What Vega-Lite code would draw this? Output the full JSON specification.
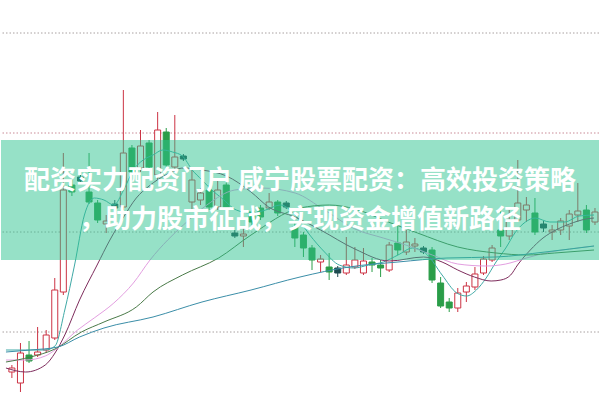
{
  "$schema": "https://vega.github.io/schema/vega-lite/v6.json",
  "width": 600,
  "height": 400,
  "autosize": {"type": "fit", "contains": "padding"},
  "padding": 0,
  "background": "white",
  "config": {"view": {"stroke": null}},
  "datasets": {
    "grid": [{"g": 6.8}, {"g": 16.8}, {"g": 26.7}, {"g": 36.7}],
    "candles": [
      {"i":0,"o":2.8,"c":3.2,"h":3.5,"l":2.2,"d":"up"},
      {"i":1,"o":1.7,"c":4.7,"h":5.7,"l":0.8,"d":"up"},
      {"i":2,"o":4.5,"c":3.9,"h":5.9,"l":3.7,"d":"down"},
      {"i":3,"o":4.5,"c":4.8,"h":7.3,"l":4.3,"d":"up"},
      {"i":4,"o":5.0,"c":6.5,"h":7.0,"l":4.7,"d":"up"},
      {"i":5,"o":6.2,"c":11.0,"h":12.2,"l":6.0,"d":"up"},
      {"i":6,"o":10.8,"c":21.0,"h":24.7,"l":10.5,"d":"up"},
      {"i":7,"o":21.5,"c":20.8,"h":22.0,"l":20.4,"d":"down"},
      {"i":8,"o":22.3,"c":21.9,"h":22.5,"l":21.7,"d":"doji"},
      {"i":9,"o":20.8,"c":19.8,"h":24.7,"l":19.6,"d":"down"},
      {"i":10,"o":19.7,"c":18.0,"h":20.0,"l":17.7,"d":"down"},
      {"i":11,"o":17.6,"c":17.9,"h":18.5,"l":16.7,"d":"up"},
      {"i":12,"o":19.6,"c":19.2,"h":20.0,"l":19.0,"d":"doji"},
      {"i":13,"o":19.3,"c":24.7,"h":31.0,"l":19.0,"d":"up"},
      {"i":14,"o":25.2,"c":22.8,"h":25.5,"l":22.5,"d":"down"},
      {"i":15,"o":23.2,"c":25.4,"h":27.0,"l":22.8,"d":"up"},
      {"i":16,"o":25.7,"c":23.3,"h":26.0,"l":23.0,"d":"down"},
      {"i":17,"o":22.5,"c":27.0,"h":28.8,"l":22.0,"d":"up"},
      {"i":18,"o":26.8,"c":23.5,"h":27.2,"l":23.2,"d":"down"},
      {"i":19,"o":23.3,"c":24.3,"h":28.5,"l":22.7,"d":"up"},
      {"i":20,"o":24.4,"c":24.1,"h":24.6,"l":23.9,"d":"doji"},
      {"i":21,"o":19.8,"c":22.0,"h":23.0,"l":19.0,"d":"up"},
      {"i":22,"o":20.0,"c":20.7,"h":21.2,"l":19.5,"d":"up"},
      {"i":23,"o":21.0,"c":19.3,"h":21.5,"l":19.0,"d":"down"},
      {"i":24,"o":19.3,"c":21.0,"h":22.0,"l":19.0,"d":"up"},
      {"i":25,"o":21.5,"c":19.2,"h":22.0,"l":19.0,"d":"down"},
      {"i":26,"o":16.7,"c":16.4,"h":17.0,"l":16.2,"d":"doji"},
      {"i":27,"o":16.4,"c":16.6,"h":17.2,"l":15.3,"d":"up"},
      {"i":28,"o":18.8,"c":17.8,"h":19.2,"l":17.5,"d":"down"},
      {"i":29,"o":19.2,"c":18.3,"h":19.5,"l":18.0,"d":"down"},
      {"i":30,"o":19.2,"c":19.8,"h":20.7,"l":19.0,"d":"up"},
      {"i":31,"o":19.8,"c":18.7,"h":20.0,"l":18.4,"d":"down"},
      {"i":32,"o":19.7,"c":19.3,"h":19.9,"l":19.1,"d":"doji"},
      {"i":33,"o":17.3,"c":16.2,"h":17.8,"l":15.3,"d":"down"},
      {"i":34,"o":16.5,"c":15.2,"h":16.8,"l":14.3,"d":"down"},
      {"i":35,"o":15.2,"c":14.0,"h":15.5,"l":13.0,"d":"down"},
      {"i":36,"o":13.8,"c":14.1,"h":14.5,"l":12.8,"d":"up"},
      {"i":37,"o":13.3,"c":12.8,"h":14.7,"l":12.0,"d":"down"},
      {"i":38,"o":13.2,"c":12.7,"h":13.4,"l":12.3,"d":"doji"},
      {"i":39,"o":12.7,"c":13.5,"h":16.3,"l":12.5,"d":"up"},
      {"i":40,"o":13.3,"c":14.0,"h":15.3,"l":13.1,"d":"up"},
      {"i":41,"o":12.7,"c":13.9,"h":15.2,"l":12.5,"d":"up"},
      {"i":42,"o":13.8,"c":13.5,"h":14.2,"l":12.8,"d":"down"},
      {"i":43,"o":13.5,"c":13.2,"h":14.0,"l":12.3,"d":"down"},
      {"i":44,"o":13.0,"c":15.5,"h":15.8,"l":12.8,"d":"up"},
      {"i":45,"o":15.7,"c":15.0,"h":17.5,"l":14.5,"d":"down"},
      {"i":46,"o":14.8,"c":15.8,"h":17.0,"l":14.5,"d":"up"},
      {"i":47,"o":15.4,"c":15.6,"h":16.2,"l":14.8,"d":"up"},
      {"i":48,"o":15.2,"c":14.8,"h":15.4,"l":14.6,"d":"doji"},
      {"i":49,"o":15.0,"c":12.0,"h":15.3,"l":11.7,"d":"down"},
      {"i":50,"o":11.7,"c":9.4,"h":12.3,"l":9.2,"d":"down"},
      {"i":51,"o":9.8,"c":9.2,"h":10.2,"l":8.8,"d":"down"},
      {"i":52,"o":9.2,"c":10.7,"h":11.2,"l":8.8,"d":"up"},
      {"i":53,"o":10.8,"c":11.4,"h":11.8,"l":9.8,"d":"up"},
      {"i":54,"o":11.3,"c":12.6,"h":13.3,"l":11.0,"d":"up"},
      {"i":55,"o":12.7,"c":14.1,"h":14.4,"l":12.5,"d":"up"},
      {"i":56,"o":14.0,"c":15.2,"h":15.5,"l":13.8,"d":"up"},
      {"i":57,"o":17.0,"c":16.4,"h":19.0,"l":15.3,"d":"down"},
      {"i":58,"o":16.4,"c":18.0,"h":19.0,"l":16.0,"d":"up"},
      {"i":59,"o":18.0,"c":19.7,"h":24.0,"l":17.8,"d":"up"},
      {"i":60,"o":19.0,"c":19.5,"h":20.3,"l":17.8,"d":"up"},
      {"i":61,"o":18.7,"c":16.8,"h":20.2,"l":16.5,"d":"down"},
      {"i":62,"o":17.6,"c":17.2,"h":17.9,"l":16.8,"d":"doji"},
      {"i":63,"o":16.8,"c":17.0,"h":17.5,"l":16.0,"d":"up"},
      {"i":64,"o":17.0,"c":17.9,"h":18.2,"l":16.5,"d":"up"},
      {"i":65,"o":17.4,"c":18.6,"h":19.0,"l":16.0,"d":"up"},
      {"i":66,"o":18.5,"c":18.9,"h":21.7,"l":17.8,"d":"up"},
      {"i":67,"o":19.0,"c":17.0,"h":19.5,"l":16.7,"d":"down"},
      {"i":68,"o":17.8,"c":18.8,"h":19.2,"l":17.5,"d":"up"}
    ],
    "ma": [
      {"ma":"MA5","i":-0.69,"p":5.0},{"ma":"MA5","i":1.6,"p":5.0},{"ma":"MA5","i":3.89,"p":5.0},{"ma":"MA5","i":5.03,"p":5.4},
      {"ma":"MA5","i":6.17,"p":9.0},{"ma":"MA5","i":7.31,"p":13.5},{"ma":"MA5","i":8.46,"p":18.5},{"ma":"MA5","i":9.6,"p":20.2},
      {"ma":"MA5","i":10.74,"p":20.0},{"ma":"MA5","i":11.89,"p":19.5},{"ma":"MA5","i":13.03,"p":21.0},{"ma":"MA5","i":14.17,"p":23.0},
      {"ma":"MA5","i":15.31,"p":24.0},{"ma":"MA5","i":16.46,"p":24.5},{"ma":"MA5","i":17.6,"p":25.0},{"ma":"MA5","i":18.74,"p":24.8},
      {"ma":"MA5","i":19.89,"p":24.4},{"ma":"MA5","i":21.03,"p":23.0},{"ma":"MA5","i":22.17,"p":22.0},{"ma":"MA5","i":23.31,"p":21.0},
      {"ma":"MA5","i":24.46,"p":20.2},{"ma":"MA5","i":26.17,"p":19.0},{"ma":"MA5","i":27.89,"p":18.7},{"ma":"MA5","i":29.6,"p":19.0},
      {"ma":"MA5","i":31.31,"p":19.5},{"ma":"MA5","i":33.03,"p":18.5},{"ma":"MA5","i":34.74,"p":16.5},{"ma":"MA5","i":36.46,"p":14.8},
      {"ma":"MA5","i":38.17,"p":13.5},{"ma":"MA5","i":39.89,"p":13.2},{"ma":"MA5","i":41.6,"p":13.5},{"ma":"MA5","i":43.31,"p":13.8},
      {"ma":"MA5","i":45.03,"p":14.5},{"ma":"MA5","i":46.74,"p":15.2},{"ma":"MA5","i":48.46,"p":14.5},{"ma":"MA5","i":50.17,"p":12.5},
      {"ma":"MA5","i":51.89,"p":10.7},{"ma":"MA5","i":53.03,"p":10.4},{"ma":"MA5","i":54.17,"p":11.0},{"ma":"MA5","i":55.31,"p":12.2},
      {"ma":"MA5","i":56.46,"p":13.8},{"ma":"MA5","i":57.6,"p":15.2},{"ma":"MA5","i":58.74,"p":16.8},{"ma":"MA5","i":59.89,"p":17.8},
      {"ma":"MA5","i":61.03,"p":18.2},{"ma":"MA5","i":62.74,"p":17.8},{"ma":"MA5","i":64.46,"p":17.8},{"ma":"MA5","i":66.17,"p":18.4},
      {"ma":"MA5","i":67.89,"p":18.5},

      {"ma":"MA10","i":-0.69,"p":3.2},{"ma":"MA10","i":1.6,"p":2.8},{"ma":"MA10","i":3.89,"p":3.5},{"ma":"MA10","i":5.03,"p":4.7},
      {"ma":"MA10","i":6.17,"p":6.5},{"ma":"MA10","i":7.89,"p":10.0},{"ma":"MA10","i":9.94,"p":13.5},{"ma":"MA10","i":11.43,"p":16.0},
      {"ma":"MA10","i":13.03,"p":18.3},{"ma":"MA10","i":14.51,"p":20.2},{"ma":"MA10","i":16.0,"p":21.4},{"ma":"MA10","i":17.94,"p":22.5},
      {"ma":"MA10","i":20.0,"p":23.2},{"ma":"MA10","i":22.17,"p":23.0},{"ma":"MA10","i":25.03,"p":22.4},{"ma":"MA10","i":27.89,"p":20.8},
      {"ma":"MA10","i":29.94,"p":19.3},{"ma":"MA10","i":33.03,"p":18.3},{"ma":"MA10","i":36.0,"p":17.0},{"ma":"MA10","i":40.0,"p":15.1},
      {"ma":"MA10","i":44.0,"p":13.9},{"ma":"MA10","i":48.0,"p":14.3},{"ma":"MA10","i":50.17,"p":13.8},{"ma":"MA10","i":52.0,"p":13.0},
      {"ma":"MA10","i":53.94,"p":12.3},{"ma":"MA10","i":55.89,"p":11.9},{"ma":"MA10","i":57.03,"p":12.0},{"ma":"MA10","i":58.17,"p":12.5},
      {"ma":"MA10","i":58.97,"p":13.5},{"ma":"MA10","i":60.46,"p":15.0},{"ma":"MA10","i":61.94,"p":16.2},{"ma":"MA10","i":63.43,"p":17.0},
      {"ma":"MA10","i":65.03,"p":17.6},{"ma":"MA10","i":66.97,"p":18.1},{"ma":"MA10","i":67.89,"p":18.2},

      {"ma":"MA20","i":-0.69,"p":4.0},{"ma":"MA20","i":1.6,"p":4.0},{"ma":"MA20","i":3.89,"p":4.4},{"ma":"MA20","i":5.03,"p":5.0},
      {"ma":"MA20","i":7.66,"p":7.0},{"ma":"MA20","i":9.6,"p":8.2},{"ma":"MA20","i":11.89,"p":9.7},{"ma":"MA20","i":14.17,"p":11.7},
      {"ma":"MA20","i":16.11,"p":14.0},{"ma":"MA20","i":18.17,"p":16.0},{"ma":"MA20","i":20.0,"p":17.5},{"ma":"MA20","i":22.74,"p":19.5},
      {"ma":"MA20","i":26.0,"p":21.0},{"ma":"MA20","i":29.03,"p":21.2},{"ma":"MA20","i":33.03,"p":20.7},{"ma":"MA20","i":36.46,"p":19.0},
      {"ma":"MA20","i":40.0,"p":17.1},{"ma":"MA20","i":43.31,"p":16.2},{"ma":"MA20","i":45.94,"p":15.5},{"ma":"MA20","i":49.03,"p":14.5},
      {"ma":"MA20","i":52.0,"p":13.6},{"ma":"MA20","i":55.31,"p":13.4},{"ma":"MA20","i":57.6,"p":13.6},{"ma":"MA20","i":60.0,"p":14.2},
      {"ma":"MA20","i":62.74,"p":14.8},{"ma":"MA20","i":65.03,"p":15.1},{"ma":"MA20","i":67.89,"p":15.4},

      {"ma":"MA30","i":-0.69,"p":3.8},{"ma":"MA30","i":2.17,"p":4.3},{"ma":"MA30","i":5.03,"p":5.1},{"ma":"MA30","i":8.11,"p":6.8},
      {"ma":"MA30","i":10.74,"p":7.8},{"ma":"MA30","i":14.51,"p":9.3},{"ma":"MA30","i":16.46,"p":10.8},{"ma":"MA30","i":19.89,"p":12.5},
      {"ma":"MA30","i":24.11,"p":14.2},{"ma":"MA30","i":27.89,"p":16.5},{"ma":"MA30","i":33.6,"p":19.2},{"ma":"MA30","i":37.03,"p":19.5},
      {"ma":"MA30","i":40.0,"p":19.1},{"ma":"MA30","i":43.89,"p":17.8},{"ma":"MA30","i":47.31,"p":16.7},{"ma":"MA30","i":52.0,"p":15.3},
      {"ma":"MA30","i":56.46,"p":14.7},{"ma":"MA30","i":60.0,"p":14.5},{"ma":"MA30","i":63.31,"p":14.7},{"ma":"MA30","i":67.89,"p":15.0},

      {"ma":"MA60","i":-0.69,"p":4.8},{"ma":"MA60","i":2.17,"p":5.0},{"ma":"MA60","i":5.37,"p":5.3},{"ma":"MA60","i":7.89,"p":6.3},
      {"ma":"MA60","i":10.74,"p":7.2},{"ma":"MA60","i":16.46,"p":8.3},{"ma":"MA60","i":22.17,"p":9.8},{"ma":"MA60","i":27.89,"p":11.0},
      {"ma":"MA60","i":33.6,"p":12.3},{"ma":"MA60","i":39.31,"p":13.3},{"ma":"MA60","i":45.03,"p":13.8},{"ma":"MA60","i":50.74,"p":14.2},
      {"ma":"MA60","i":56.46,"p":14.3},{"ma":"MA60","i":62.17,"p":14.8},{"ma":"MA60","i":67.89,"p":15.4}
    ],
    "banner": [{"top": 26.0, "bottom": 14.0}],
    "caption": [
      {"t": "配资实力配资门户 咸宁股票配资：高效投资策略", "xi": 33.6, "p": 21.9},
      {"t": "，助力股市征战，实现资金增值新路径", "xi": 33.6, "p": 18.05}
    ]
  },
  "layer": [
    {
      "data": {"name": "grid"},
      "mark": {"type": "rule", "strokeWidth": 1, "strokeDash": [1.5, 2]},
      "encoding": {
        "y": {"field": "g", "type": "quantitative", "scale": {"domain": [0, 40], "nice": false, "zero": false}, "axis": null},
        "stroke": {"condition": {"test": "datum.g === 26.7", "value": "#c98a96"}, "value": "#a8a0a0"}
      }
    },
    {
      "data": {"name": "candles"},
      "mark": {"type": "rule", "strokeWidth": 1},
      "encoding": {
        "x": {"field": "i", "type": "quantitative", "scale": {"domain": [-0.686, 67.886], "nice": false, "zero": false}, "axis": null},
        "y": {"field": "l", "type": "quantitative", "scale": {"domain": [0, 40], "nice": false, "zero": false}, "axis": null},
        "y2": {"field": "h"},
        "stroke": {"field": "d", "type": "nominal", "scale": {"domain": ["up", "down", "doji"], "range": ["#cc3344", "#2a9d48", "#1e4b50"]}, "legend": null}
      }
    },
    {
      "data": {"name": "candles"},
      "mark": {"type": "bar", "size": 6, "strokeWidth": 1},
      "encoding": {
        "x": {"field": "i", "type": "quantitative", "scale": {"domain": [-0.686, 67.886], "nice": false, "zero": false}, "axis": null},
        "y": {"field": "o", "type": "quantitative", "scale": {"domain": [0, 40], "nice": false, "zero": false}, "axis": null},
        "y2": {"field": "c"},
        "fill": {"field": "d", "type": "nominal", "scale": {"domain": ["up", "down", "doji"], "range": ["#ffffff", "#2a9d48", "#1e4b50"]}, "legend": null},
        "stroke": {"field": "d", "type": "nominal", "scale": {"domain": ["up", "down", "doji"], "range": ["#cc3344", "#2a9d48", "#1e4b50"]}, "legend": null}
      }
    },
    {
      "data": {"name": "ma"},
      "mark": {"type": "line", "strokeWidth": 1, "interpolate": "monotone"},
      "encoding": {
        "x": {"field": "i", "type": "quantitative", "scale": {"domain": [-0.686, 67.886], "nice": false, "zero": false}, "axis": null},
        "y": {"field": "p", "type": "quantitative", "scale": {"domain": [0, 40], "nice": false, "zero": false}, "axis": null},
        "color": {"field": "ma", "type": "nominal", "scale": {"domain": ["MA5", "MA10", "MA20", "MA30", "MA60"], "range": ["#3fa9a6", "#7e2c5c", "#e39ee0", "#4a7a48", "#3b8ea8"]}, "legend": null}
      }
    },
    {
      "data": {"name": "banner"},
      "mark": {"type": "rect", "color": "#2ec490", "opacity": 0.5},
      "encoding": {
        "y": {"field": "top", "type": "quantitative", "scale": {"domain": [0, 40], "nice": false, "zero": false}, "axis": null},
        "y2": {"field": "bottom"}
      }
    },
    {
      "data": {"name": "caption"},
      "mark": {"type": "text", "font": "Noto Sans CJK SC", "fontSize": 26, "fontWeight": "bold", "fill": "#ffffff", "align": "center", "baseline": "middle"},
      "encoding": {
        "x": {"field": "xi", "type": "quantitative", "scale": {"domain": [-0.686, 67.886], "nice": false, "zero": false}, "axis": null},
        "y": {"field": "p", "type": "quantitative", "scale": {"domain": [0, 40], "nice": false, "zero": false}, "axis": null},
        "text": {"field": "t", "type": "nominal"}
      }
    }
  ]
}
